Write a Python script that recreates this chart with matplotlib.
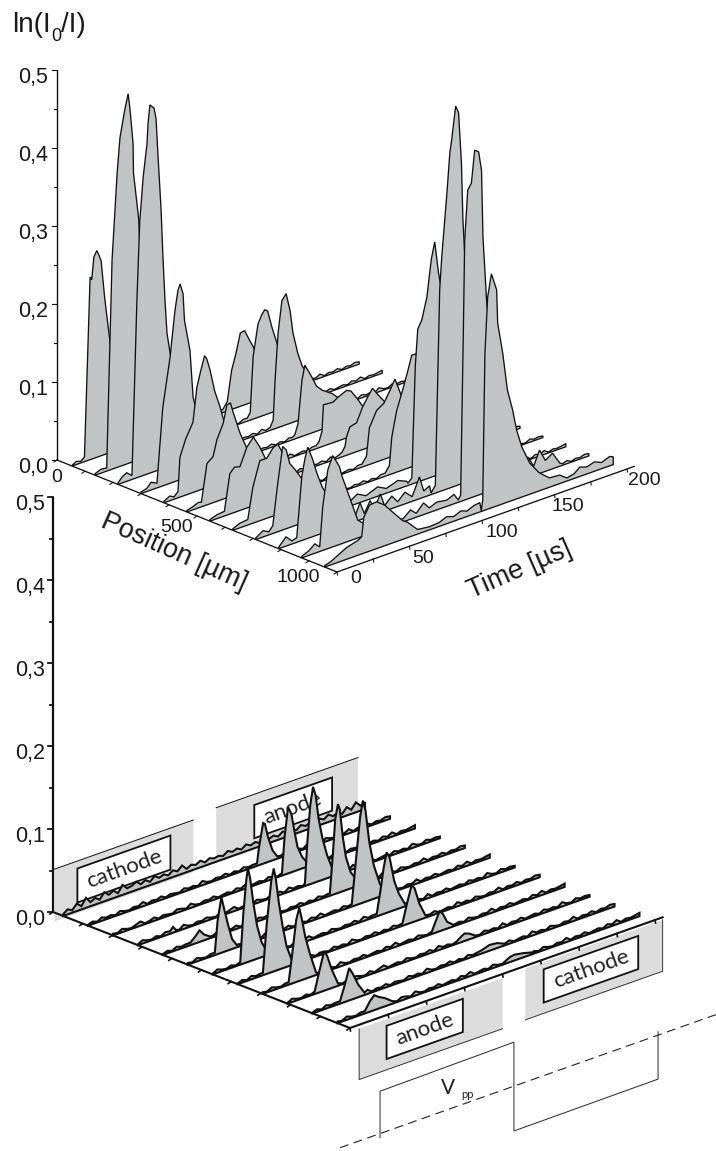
import numpy as np
import matplotlib
matplotlib.use('Agg')
import matplotlib.pyplot as plt
from matplotlib.patches import Polygon

plt.rcParams['font.family'] = ['Liberation Sans', 'DejaVu Sans']

# profile positions in um
upper_positions = [54, 136, 218, 300, 382, 464, 546, 628, 710, 792, 874, 956]
lower_positions = [34, 118, 202, 286, 370, 454, 538, 622, 706, 790, 874, 958]

value_ticks = [0.0, 0.1, 0.2, 0.3, 0.4, 0.5]
value_labels = ['0,0', '0,1', '0,2', '0,3', '0,4', '0,5']
time_ticks = [0, 50, 100, 150, 200]
position_ticks = [0, 500, 1000]

noise_t = np.arange(0, 201, 3)
noise_a = [.001,.003,.001,.004,.002,.003,.001,.004,.002,.001,.003,.002,.005,.001,.003,.002,.004,.001,.003,.002,.001,.004,.002,.003,.001,.005,.002,.001,.003,.002,.004,.001,.003,.001,.004,.002,.003,.001,.002,.005,.001,.003,.002,.004,.001,.002,.003,.001,.005,.002,.003,.001,.004,.002,.001,.003,.002,.005,.001,.003,.002,.004,.001,.003,.002,.004,.003]
noise_b = [.002,.001,.004,.002,.001,.003,.005,.001,.002,.004,.001,.003,.002,.001,.004,.003,.001,.005,.002,.001,.003,.002,.004,.001,.002,.003,.001,.004,.002,.005,.001,.002,.003,.001,.004,.002,.001,.003,.005,.002,.001,.004,.002,.003,.001,.004,.002,.001,.003,.002,.005,.001,.003,.002,.004,.001,.002,.003,.001,.004,.002,.005,.001,.003,.002,.003,.004]
noise_c = [.001,.004,.002,.001,.003,.001,.004,.002,.003,.001,.005,.002,.001,.003,.002,.004,.002,.001,.004,.001,.003,.005,.001,.002,.003,.001,.004,.002,.001,.003,.002,.004,.001,.005,.002,.003,.001,.002,.004,.001,.003,.002,.001,.004,.002,.003,.001,.005,.001,.003,.002,.004,.001,.002,.003,.001,.004,.002,.003,.001,.005,.002,.001,.004,.002,.003,.002]
noise_back = [.002,.006,.003,.009,.004,.012,.005,.008,.004,.011,.006,.009,.004,.012,.006,.007,.01,.005,.008,.004,.009,.005,.007,.004,.008,.005,.01,.004,.007,.005,.008,.004,.007,.005,.006,.004,.008,.005,.007,.004,.008,.005,.007,.004,.009,.005,.007,.004,.008,.005,.006,.004,.008,.005,.007,.004,.008,.005,.009,.005,.007,.004,.01,.005,.012,.006,.008]

# upper stack: (time us, ln(I0/I)) around each peak, back to front
up_00a = [(0,.001),(3,.004),(6,.002),(8.5,.006),(12.4,.234),(13.5,.23),(15,.258),(17,.265),(18.5,.258),(20,.25),(22.5,.2),(26,.144),(30,.08),(36,.03),(45,.008)]
up_00b = [(104,.004),(107,.012),(110,.05),(113,.07),(116,.094),(119,.095),(122,.082),(125,.07),(130,.04),(138,.012),(145,.004)]
up_01a = [(0,.002),(4,.005),(8,.004),(11.7,.268),(15.2,.377),(17.2,.422),(20.7,.457),(22.8,.474),(24,.455),(26.2,.408),(26.5,.37),(30,.31),(31,.272),(36,.18),(42,.08),(50,.02),(60,.005)]
up_01b = [(105,.004),(107,.01),(109,.08),(112.4,.12),(115,.13),(117,.135),(119,.132),(122,.109),(125.5,.086),(132,.05),(140,.02),(150,.004)]
up_02a = [(0,.002),(3,.008),(6,.011),(9.6,.005),(13,.227),(15,.328),(17.3,.382),(20,.424),(20.7,.45),(22,.472),(24.8,.466),(26.2,.452),(27.6,.402),(29.7,.332),(31,.27),(32.4,.214),(33.8,.171),(35.9,.145),(42,.08),(50,.03),(60,.006)]
up_02b = [(105,.004),(107,.012),(108.3,.062),(110.3,.12),(113,.161),(115.9,.168),(118.6,.145),(120.7,.114),(124,.086),(127,.068),(135,.04),(145,.015),(155,.004)]
up_03a = [(0,.002),(4,.004),(7,.01),(11,.006),(15,.1),(20,.161),(23.4,.219),(25.5,.244),(27,.251),(29,.237),(30,.202),(33.8,.161),(35.9,.1),(42,.05),(50,.015),(60,.005)]
up_03b = [(104,.003),(106,.005),(108.3,.018),(111,.072),(113,.09),(116.5,.077),(121,.058),(125,.05),(132,.041),(140,.025),(150,.012),(160,.004)]
up_04a = [(0,.002),(4,.006),(7,.003),(9.7,.008),(11,.051),(15,.072),(20,.09),(22.7,.133),(25,.15),(28,.17),(29.5,.165),(31.7,.15),(35,.12),(38.6,.098),(45,.05),(52,.015),(60,.004)]
up_04b = [(105,.004),(107,.008),(109,.02),(110,.053),(116.5,.052),(120,.056),(126,.061),(129,.058),(133.8,.044),(138.6,.028),(148,.012),(155,.004)]
up_05a = [(0,.002),(4,.004),(8,.007),(10,.006),(13.8,.053),(18,.059),(20.7,.079),(25,.097),(27.6,.119),(30,.12),(32,.106),(36.6,.077),(42,.051),(50,.02),(60,.005)]
up_05b = [(105,.004),(107,.006),(109,.012),(110,.023),(112.4,.035),(117,.037),(121,.054),(125,.066),(128,.074),(133,.06),(136.5,.051),(142,.03),(150,.012),(160,.004)]
up_06a = [(0,.002),(5,.005),(10,.006),(13.8,.052),(17,.058),(20.7,.056),(25.5,.078),(30,.088),(34.5,.072),(39,.052),(46,.025),(54,.008),(62,.004)]
up_06b = [(105,.004),(108,.012),(110,.047),(115,.066),(120,.072),(124,.085),(127.6,.098),(132,.074),(140,.04),(150,.015),(160,.004)]
up_07a = [(0,.002),(5,.006),(10.3,.007),(13.8,.046),(18.6,.077),(23.4,.077),(28,.088),(31,.09),(36,.07),(44,.035),(52,.01),(60,.004)]
up_07b = [(105,.004),(108,.012),(109.6,.047),(113,.079),(117,.102),(120.7,.125),(123.4,.143),(127,.143),(134,.09),(142,.04),(152,.015),(162,.004)]
up_08a = [(0,.002),(5,.008),(9,.004),(11.7,.01),(15,.06),(18,.1),(18.6,.107),(21,.101),(23.4,.082),(27,.072),(34,.05),(42,.02),(50,.006),(58,.01),(64,.005),(70,.012),(76,.006),(84,.012),(90,.006),(98,.011),(104,.006)]
up_08b = [(107.6,.008),(110,.15),(111.7,.196),(114.5,.206),(118,.233),(121,.279),(123.4,.3),(126,.259),(128,.236),(134,.16),(142,.07),(150,.025),(160,.008),(168,.003)]
up_09a = [(0,.002),(5,.012),(9,.004),(12.4,.006),(15.9,.082),(18,.103),(20,.117),(23.4,.099),(26.2,.08),(30,.059),(38,.03),(46,.012),(52,.004),(56,.022),(59,.006),(63,.02),(66,.008),(70,.024),(73,.007),(78,.016),(82,.006),(87,.015),(92,.006),(97,.028),(100,.008),(104,.012)]
up_09b = [(108,.01),(111,.259),(112.4,.3),(116,.38),(118,.43),(119.3,.446),(122,.487),(124,.477),(126,.411),(127,.338),(129,.264),(135,.15),(142,.07),(150,.025),(154,.032),(158,.012),(163,.02),(168,.005)]
up_10a = [(0,.002),(5,.006),(9,.012),(12.4,.006),(14.5,.056),(18,.101),(21.4,.117),(26,.1),(28,.085),(33,.056),(38.6,.023),(45,.012),(52,.008),(57,.004),(62,.006),(70,.004),(75,.012),(79,.005),(84,.015),(88,.006),(93,.01),(100,.008),(105,.012)]
up_10b = [(109.6,.008),(111.5,.22),(112.4,.333),(114.5,.396),(117,.403),(119.3,.444),(122,.44),(124,.415),(125,.329),(127.6,.242),(134,.14),(142,.07),(150,.03),(156,.026),(160,.012),(164,.03),(168,.014),(173,.02),(178,.004)]
up_11a = [(0,.002),(4,.004),(8,.008),(12,.012),(15,.015),(22.8,.019),(25.5,.022),(27,.046),(31,.059),(35.9,.06),(41.4,.052),(48,.037),(53.8,.024),(57,.02),(64,.006),(72,.004),(79,.005),(84,.009),(89,.006),(94,.01),(98,.007),(103,.011),(107,.012)]
up_11b = [(109,.014),(110.5,.2),(112.4,.272),(115,.3),(118.6,.277),(119.3,.234),(122.8,.193),(126,.144),(129.6,.116),(132.4,.088),(136,.064),(141.4,.04),(148,.023),(155,.012),(162,.011),(167,.004),(172,.006),(176,.012),(180.7,.009),(186,.012),(191,.008),(196.6,.012),(199,.01)]

# lower stack: the peaks, the rest is baseline noise
lo_01b = [(110.8,.003),(112,.02),(114.8,.049),(116,.047),(118,.03),(121,.012),(124,.003)]
lo_02b = [(110.8,.003),(112.5,.045),(114.8,.08),(117,.07),(119,.048),(121,.028),(124,.014),(128,.003)]
lo_03a = [(21,.003),(23,.007),(25,.002)]
lo_03b = [(109.5,.003),(111,.05),(113,.095),(114.8,.116),(116.5,.105),(118.5,.075),(121,.05),(124,.028),(127,.012),(131,.003)]
lo_04a = [(18,.003),(21,.008),(24,.014),(27,.007),(31,.002)]
lo_04b = [(109.5,.003),(111.5,.05),(113,.09),(114.8,.107),(116,.1),(118,.065),(120,.04),(123,.02),(127,.008),(132,.002)]
lo_05a = [(17.7,.003),(19.5,.04),(22,.067),(24,.05),(26.5,.03),(29,.012),(32,.003)]
lo_05b = [(107.5,.003),(110,.05),(113,.105),(114.8,.123),(116.5,.11),(119,.07),(122,.04),(126,.015),(130,.003)]
lo_06a = [(18,.003),(20,.06),(22,.1),(23,.113),(24.5,.1),(26.5,.07),(29,.04),(32,.018),(36,.003)]
lo_06b = [(107.5,.003),(110,.03),(112,.055),(114,.073),(116,.065),(119,.035),(122,.018),(126,.003)]
lo_07a = [(16.5,.003),(19,.06),(22,.11),(23.6,.124),(25,.11),(27,.08),(29.5,.05),(32,.025),(36,.003)]
lo_07b = [(108,.003),(111,.025),(114,.045),(116,.04),(119,.02),(123,.003)]
lo_08a = [(17,.003),(19,.03),(22,.075),(24,.088),(25.5,.075),(28,.05),(31,.028),(35,.003)]
lo_08b = [(111,.003),(113,.012),(116,.024),(118,.02),(121,.008),(125,.002)]
lo_09a = [(17.7,.003),(20,.02),(24,.048),(26,.04),(29,.022),(33,.003)]
lo_09b = [(111,.003),(114,.007),(116,.009),(119,.007),(123,.002)]
lo_10a = [(18,.003),(21,.02),(24,.039),(26.5,.03),(30,.015),(34,.003)]
lo_10b = [(111,.004),(116,.007),(121,.006),(126,.002)]
lo_11a = [(18,.003),(21,.012),(24,.018),(27,.014),(31,.01),(36,.003)]
lo_11b = [(110,.003),(113,.006),(116,.007),(122,.005),(128,.002)]

# electrode strips: (t_start, t_end, v_top, v_bottom)
back_cathode = (1, 92, .051, -.012)
back_anode = (107, 200, .056, -.009)
front_anode = (6, 100, -.005, -.066)
front_cathode = (115, 205, -.003, -.065)
back_cathode_box = (16, 77, .042, .001)
back_anode_box = (132, 183, .043, .003)
front_anode_box = (24, 74, -.013, -.053)
front_cathode_box = (127, 189, -.012, -.052)

# applied voltage square wave
wave_t = [19.7, 19.7, 107.5, 107.5, 202, 202]
wave_v = [-.145, -.089, -.087, -.194, -.193, -.136]
wave_zero_t = [-6.5, 240]
wave_zero_v = [-.14, -.14]

GREY_FILL = '#c0c4c4'
PANEL = '#dcdcdc'
INK = '#111111'
TXT = '#1a1a1a'

# oblique projection of both stacks onto the page (pixels)
UPPER = dict(x0=57, y0=460, px=.28, py=.112, tx=1.45, ty=-.515, vs=780)
LOWER = dict(x0=53, y0=912, px=.297, py=.116, tx=1.525, ty=-.54, vs=830)


def with_noise(noise, *peaks):
    # noise fills whatever the peak pieces do not cover
    pts = list(zip(noise_t, noise))
    for p in peaks:
        pts = [q for q in pts if q[0] < p[0][0] or q[0] > p[-1][0]]
        pts = pts + p
    return sorted(pts)


upper_curves = [
    with_noise(noise_a, up_00a, up_00b),
    with_noise(noise_b, up_01a, up_01b),
    with_noise(noise_c, up_02a, up_02b),
    with_noise(noise_a, up_03a, up_03b),
    with_noise(noise_b, up_04a, up_04b),
    with_noise(noise_c, up_05a, up_05b),
    with_noise(noise_b, up_06a, up_06b),
    with_noise(noise_a, up_07a, up_07b),
    with_noise(noise_c, up_08a, up_08b),
    with_noise(noise_b, up_09a, up_09b),
    with_noise(noise_a, up_10a, up_10b),
    with_noise(noise_c, up_11a, up_11b),
]
lower_curves = [
    with_noise(noise_back),
    with_noise(noise_a, lo_01b),
    with_noise(noise_b, lo_02b),
    with_noise(noise_c, lo_03a, lo_03b),
    with_noise(noise_a, lo_04a, lo_04b),
    with_noise(noise_b, lo_05a, lo_05b),
    with_noise(noise_c, lo_06a, lo_06b),
    with_noise(noise_a, lo_07a, lo_07b),
    with_noise(noise_b, lo_08a, lo_08b),
    with_noise(noise_c, lo_09a, lo_09b),
    with_noise(noise_a, lo_10a, lo_10b),
    with_noise(noise_b, lo_11a, lo_11b),
]


def proj(cfg, pos, t, v=0.0):
    t = np.asarray(t, dtype=float)
    v = np.asarray(v, dtype=float)
    x = cfg['x0'] + pos * cfg['px'] + t * cfg['tx']
    y = cfg['y0'] + pos * cfg['py'] + t * cfg['ty'] - v * cfg['vs']
    return x, y


def draw_stack(ax, cfg, positions, curves, lw, z):
    for i, (pos, curve) in enumerate(zip(positions, curves)):
        arr = np.array(curve)
        t, v = arr[:, 0], arr[:, 1]
        x, y = proj(cfg, pos, t, v)
        bx, by = proj(cfg, pos, t[::-1], 0 * t)
        pts = np.column_stack([np.r_[x, bx], np.r_[y, by]])
        ax.add_patch(Polygon(pts, closed=True, facecolor=GREY_FILL, edgecolor=INK,
                             lw=lw, joinstyle='miter', zorder=z + i * .01))


def draw_strip(ax, cfg, pos, spec, face, edge, lw, z):
    t0, t1, top, bot = spec
    xs, ys = proj(cfg, pos, [t0, t1, t1, t0], [top, top, bot, bot])
    ax.add_patch(Polygon(np.column_stack([xs, ys]), closed=True, facecolor=face,
                         edgecolor=edge, lw=lw, zorder=z))
    return xs.mean(), ys.mean()


def draw_value_axis(ax, cfg, lw, label_x):
    x0, y0 = cfg['x0'], cfg['y0']
    ax.plot([x0, x0], [y0, y0 - .5 * cfg['vs']], color=INK, lw=lw, zorder=4, solid_capstyle='butt')
    for v in np.arange(0, .501, .05):
        y = y0 - v * cfg['vs']
        major = abs(v * 10 - round(v * 10)) < 1e-6
        ax.plot([x0 - (5 if major else 3), x0], [y, y], color=INK, lw=lw * .8, zorder=4)
    for v, lab in zip(value_ticks, value_labels):
        ax.text(label_x, y0 - v * cfg['vs'] + 13, lab, ha='right', va='baseline', fontsize=15.5, color=TXT)


def draw_floor_axes(ax, cfg, lw):
    xa, ya = proj(cfg, 0, 0)
    xb, yb = proj(cfg, 1000, 0)
    xc, yc = proj(cfg, 1000, 205)
    ax.plot([xa, xb, xc], [ya, yb, yc], color=INK, lw=lw, zorder=6, solid_joinstyle='miter')
    for pos in np.arange(0, 1001, 100):
        x, y = proj(cfg, pos, 0)
        ax.plot([x, x - 3], [y, y + 2], color=INK, lw=lw * .8, zorder=6)
    for t in np.arange(0, 201, 25):
        x, y = proj(cfg, 1000, t)
        ax.plot([x, x + .5], [y, y + 3], color=INK, lw=lw * .8, zorder=6)


fig = plt.figure(figsize=(7.16, 11.51), dpi=100)
ax = fig.add_axes([0, 0, 1, 1])
ax.set_xlim(0, 716)
ax.set_ylim(1151, 0)
ax.axis('off')

# title pieces placed by hand, mathtext keeps the subscript too high
ax.text(12, 32, 'ln(I', fontsize=20, ha='left', va='baseline', color=TXT)
ax.text(51, 41, '0', fontsize=13, ha='left', va='baseline', color=TXT)
ax.text(61, 32, '/I)', fontsize=20, ha='left', va='baseline', color=TXT)

# upper chart
draw_value_axis(ax, UPPER, 1.0, 48)
draw_stack(ax, UPPER, upper_positions, upper_curves, .95, 5)
draw_floor_axes(ax, UPPER, .95)

pos_offsets = [(0, 17), (-20, 11), (-39, 5)]
for pos, (dx, dy) in zip(position_ticks, pos_offsets):
    x, y = proj(UPPER, pos, 0)
    ax.text(x + dx, y + dy, str(pos), ha='center', va='center', fontsize=14, color=TXT, zorder=8)
time_offsets = [(19, 6), (14, 12), (20, 12), (13, 12), (17, 11)]
for t, (dx, dy) in zip(time_ticks, time_offsets):
    x, y = proj(UPPER, 1000, t)
    ax.text(x + dx, y + dy, str(t), ha='center', va='center', fontsize=14, color=TXT, zorder=8)
ax.text(174, 552, 'Position [µm]', rotation=-24, rotation_mode='anchor', ha='center', va='center',
        fontsize=19.5, color=TXT, zorder=8)
ax.text(520, 570, 'Time [µs]', rotation=23.5, rotation_mode='anchor', ha='center', va='center',
        fontsize=19.5, color=TXT, zorder=8)

# lower chart, strips first so the peaks cover them
draw_strip(ax, LOWER, 0, back_cathode, PANEL, 'none', .7, 2)
draw_strip(ax, LOWER, 0, back_anode, PANEL, 'none', .7, 2)
for spec in (back_cathode, back_anode):
    xs, ys = proj(LOWER, 0, spec[:2], [spec[2], spec[2]])
    ax.plot(xs, ys, color=INK, lw=.7, zorder=2.1)

box_lw = 1.3
word_font = ['Lato', 'DejaVu Sans']
for spec, word in ((back_cathode_box, 'cathode'), (back_anode_box, 'anode')):
    cx, cy = draw_strip(ax, LOWER, 0, spec, 'white', INK, box_lw, 2.2)
    ax.text(cx, cy, word, rotation=19.7, rotation_mode='anchor', ha='center', va='center',
            family=word_font, fontsize=16, color='#222222', zorder=2.3)

draw_strip(ax, LOWER, 1000, front_anode, PANEL, 'none', .7, 2)
draw_strip(ax, LOWER, 1000, front_cathode, PANEL, 'none', .7, 2)
for spec in (front_anode, front_cathode):
    xs, ys = proj(LOWER, 1000, [spec[0], spec[0], spec[1], spec[1]], [spec[2], spec[3], spec[3], spec[2]])
    if spec is front_anode:
        ax.plot(xs[:3], ys[:3], color='#333333', lw=.7, zorder=2.1)
    else:
        ax.plot(xs[1:], ys[1:], color='#333333', lw=.7, zorder=2.1)
for spec, word in ((front_anode_box, 'anode'), (front_cathode_box, 'cathode')):
    cx, cy = draw_strip(ax, LOWER, 1000, spec, 'white', INK, box_lw, 2.2)
    ax.text(cx, cy, word, rotation=19.7, rotation_mode='anchor', ha='center', va='center',
            family=word_font, fontsize=16, color='#222222', zorder=2.3)

draw_value_axis(ax, LOWER, 1.6, 45)
draw_stack(ax, LOWER, lower_positions, lower_curves, 1.5, 5)
draw_floor_axes(ax, LOWER, 1.5)

wx, wy = proj(LOWER, 1000, wave_t, wave_v)
ax.plot(wx, wy, color='#333333', lw=.75, zorder=3, solid_joinstyle='miter')
zx, zy = proj(LOWER, 1000, wave_zero_t, wave_zero_v)
ax.plot(zx, zy, color='#222222', lw=.8, dashes=(8, 5), zorder=3)
ax.text(448, 1088, 'V', fontsize=15, ha='center', va='center', family=word_font, color='#222222')
ax.text(468, 1095, 'pp', fontsize=8, ha='center', va='center', family=word_font, color='#222222')

fig.savefig('out.png', dpi=100)
